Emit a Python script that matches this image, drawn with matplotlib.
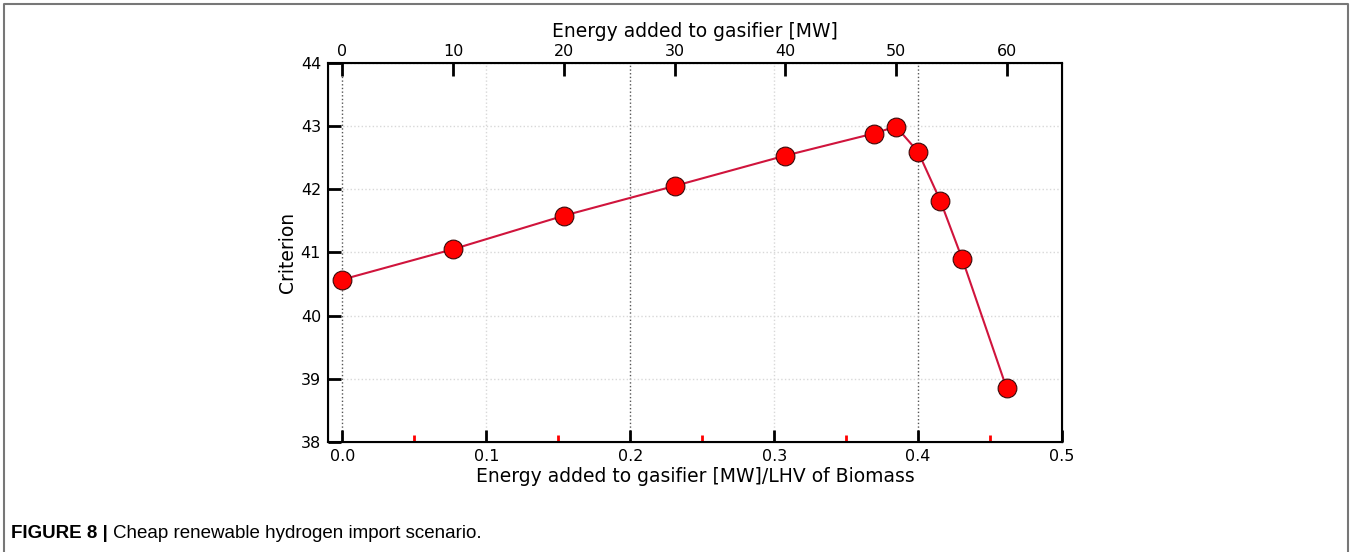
import numpy as np
import matplotlib
matplotlib.use('Agg')
import matplotlib.pyplot as plt
from matplotlib.lines import Line2D

# energy added to gasifier [MW] and the criterion value
energy_mw = [0, 10, 20, 30, 40, 48, 50, 52, 54, 56, 60]
criterion = [40.57, 41.05, 41.58, 42.05, 42.53, 42.88, 42.99, 42.59, 41.82, 40.89, 38.85]
lhv_biomass = 130.0  # MW, scale between the two x axes

top_ticks = [0, 10, 20, 30, 40, 50, 60]
bottom_ticks = [0.0, 0.1, 0.2, 0.3, 0.4, 0.5]
minor_ticks = [0.05, 0.15, 0.25, 0.35, 0.45]
y_ticks = [38, 39, 40, 41, 42, 43, 44]

ratio = np.array(energy_mw) / lhv_biomass

fig = plt.figure(figsize=(13.51, 5.52), dpi=100)
ax = fig.add_axes([0.2428, 0.1993, 0.5433, 0.6871])

ax.plot(ratio, criterion, '-', color='#d0143c', lw=1.5, zorder=3)
ax.plot(ratio, criterion, 'o', ms=13.5, mfc='#ff0000', mec='#3a0a0a', mew=0.8, zorder=4)

ax.set_xlim(-0.01, 0.5)
ax.set_ylim(38, 44)
ax.set_xticks(bottom_ticks)
ax.set_xticklabels(['%.1f' % t for t in bottom_ticks])
ax.set_xticks(minor_ticks, minor=True)
ax.set_yticks(y_ticks)
ax.tick_params(axis='both', which='major', direction='in', length=9, width=2,
               labelsize=11.5, color='black', top=False, right=False, pad=5)
ax.tick_params(axis='x', which='minor', direction='in', length=5, width=2,
               color='red', top=False)
ax.set_xlabel('Energy added to gasifier [MW]/LHV of Biomass', fontsize=13.5, labelpad=2)
ax.set_ylabel('Criterion', fontsize=13.5, labelpad=3)

ax.grid(True, which='major', axis='y', ls=':', color='#d8d8d8', lw=1)
ax.grid(True, which='major', axis='x', ls=':', color='#555555', lw=1)
for i, gl in enumerate(ax.xaxis.get_gridlines()):
    if i % 2 == 1:
        gl.set_color('#d8d8d8')
for s in ax.spines.values():
    s.set_linewidth(1.5)

ax2 = ax.twiny()
ax2.set_xlim(-0.01 * lhv_biomass, 0.5 * lhv_biomass)
ax2.set_xticks(top_ticks)
ax2.tick_params(axis='x', direction='in', length=9, width=2, labelsize=11.5, pad=3)
ax2.set_xlabel('Energy added to gasifier [MW]', fontsize=13.5, labelpad=5)

# figure frame and caption
fig.add_artist(Line2D([0.003, 0.003, 0.998, 0.998], [0.0, 0.992, 0.992, 0.0],
                      transform=fig.transFigure, color='#777777', lw=1.5))
cap_font = ['Liberation Sans Narrow', 'Liberation Sans', 'DejaVu Sans']
t = fig.text(0.008, 0.026, 'FIGURE 8 | ', fontsize=13.5, fontweight='bold',
             family=cap_font, va='baseline')
fig.canvas.draw()
bb = t.get_window_extent()
fig.text(bb.x1 / fig.bbox.width, 0.026, 'Cheap renewable hydrogen import scenario.',
         fontsize=13.5, family=cap_font, va='baseline')

fig.savefig('out.png', dpi=100)
